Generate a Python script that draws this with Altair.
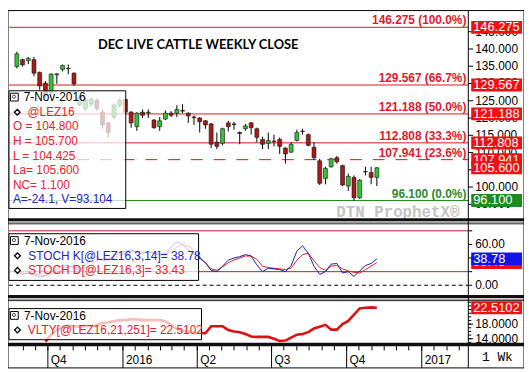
import altair as alt
import pandas as pd

W, H = 522, 362


def RX(x):
    return round((x - 2.0) * W / 528.0, 2)


def RY(y):
    return round((y - 2.0) * H / 368.0, 2)


FONT = "Liberation Sans"

# ---------------- data ----------------
weeks = pd.date_range("2015-08-24", periods=64, freq="7D").strftime("%Y-%m-%d").tolist()

opens = [134.9, 136.9, 136.6, 136.9, 133.2, 130.1, 127.3, 132.5, 134.1, 134.4,
         133.0, 123.9, 122.8, 124.2, 125.1, 121.7, 118.6, 120.3, 123.7, 125.4,
         121.7, 117.5, 121.7, 121.5, 119.4, 117.5, 119.7, 121.4, 121.4, 122.2,
         121.4, 120.3, 120.0, 119.2, 118.3, 113.0, 112.7, 118.6, 118.3, 115.8,
         116.9, 118.6, 116.9, 113.8, 112.7, 113.2, 113.8, 111.3, 110.1, 113.5,
         116.1, 115.2, 111.5, 107.6, 102.5, 105.9, 108.5, 106.2, 100.3, 102.8,
         96.9, 104.5, 104.2, 102.8]
highs = [139.2, 137.2, 137.7, 137.7, 133.5, 130.7, 133.0, 133.0, 135.5, 135.5,
         133.2, 126.5, 125.9, 125.9, 125.6, 122.5, 118.9, 124.2, 125.6, 125.6,
         122.0, 121.7, 122.5, 122.5, 119.7, 120.3, 122.2, 122.0, 123.7, 124.0,
         121.7, 120.8, 120.3, 119.4, 118.6, 115.8, 117.2, 119.2, 118.9, 116.1,
         118.3, 118.9, 117.2, 114.6, 115.8, 115.2, 114.4, 111.5, 113.0, 116.6,
         116.9, 115.5, 113.0, 108.2, 105.9, 108.5, 109.0, 106.5, 103.9, 103.4,
         102.3, 105.9, 105.9, 105.7]
lows = [134.4, 134.9, 135.6, 132.1, 128.2, 125.9, 127.0, 129.9, 133.5, 132.7,
        129.3, 123.4, 122.0, 123.4, 122.0, 116.9, 114.4, 119.7, 123.1, 121.1,
        117.2, 116.3, 120.0, 120.0, 116.9, 116.3, 119.4, 120.3, 120.3, 121.4,
        118.6, 118.0, 115.8, 116.9, 111.3, 111.0, 112.1, 116.1, 116.6, 112.4,
        116.3, 115.2, 113.0, 111.0, 111.0, 111.8, 109.6, 106.8, 109.9, 113.2,
        115.2, 111.8, 107.9, 100.6, 100.8, 105.6, 106.8, 100.3, 98.9, 96.1,
        96.6, 103.4, 100.8, 100.3]
closes = [138.6, 135.4, 137.3, 133.0, 129.3, 126.5, 132.7, 132.8, 135.2, 134.3,
          129.9, 125.9, 125.1, 125.4, 122.8, 118.0, 115.8, 123.7, 125.1, 121.7,
          118.6, 121.4, 120.8, 121.7, 117.2, 119.2, 121.4, 120.8, 122.5, 122.0,
          120.6, 120.1, 118.9, 118.0, 112.4, 111.8, 116.9, 117.5, 118.1, 115.5,
          117.7, 117.2, 114.4, 112.4, 113.5, 113.3, 111.8, 109.6, 112.4, 115.8,
          116.2, 112.1, 108.5, 101.1, 105.4, 108.2, 107.3, 100.6, 103.1, 96.9,
          102.0, 104.4, 102.8, 105.6]

stoch_k = [18, 16, 18, 15, 12, 14, 20, 24, 30, 28,
           26, 22, 30, 38, 42, 36, 38, 44, 48, 50,
           52, 48, 46, 50, 47, 44, 46, 56, 64, 60,
           52, 46, 41, 33, 22, 20, 28, 37, 40, 42,
           45, 43, 30, 20, 25, 24, 23, 20, 29, 50,
           58, 47, 28, 16, 20, 31, 32, 18, 20, 13,
           21, 29, 32, 38.78]
stoch_d = [20, 18, 17, 16, 15, 14, 16, 19, 25, 27,
           28, 25, 26, 30, 37, 39, 39, 40, 44, 47,
           50, 50, 49, 48, 48, 47, 46, 50, 56, 60,
           58, 52, 39.5, 33, 24, 22, 27, 33, 37, 40,
           43, 43, 38, 28, 26, 25, 24, 23, 25, 37,
           45, 47, 36, 26, 22, 28, 29, 24, 21, 19,
           18, 23, 28, 33.43]

# volatility starts at the 6th weekly bar
volatility = [13.2, 15.1, 16.4, 17.2, 17.5, 17.5, 17.2, 17.5, 17.5, 17.7,
              18.3, 18.5, 18.8, 19.1, 19.1, 19.3, 19.3, 19.1, 19.1, 19.1,
              19.1, 18.8, 17.7, 16.7, 16.1, 15.9, 15.6, 15.6, 15.5, 17.4,
              17.4, 17.4, 16.4, 16.0, 15.8, 15.3, 14.6, 14.5, 14.5, 14.5,
              14.0, 13.4, 13.5, 14.3, 15.1, 15.3, 15.8, 16.8, 17.3, 17.8,
              16.5, 16.5, 18.0, 18.9, 20.6, 22.3, 22.5, 22.6, 22.5102]

fib_levels = [146.275, 129.567, 121.188, 112.808, 107.941, 96.100]
fib_pcts = ["100.0%", "66.7%", "50.0%", "33.3%", "23.6%", "0.0%"]
last_price = [105.600]

price_ticks = [95, 100, 105, 110, 115, 120, 125, 130, 135, 140, 145]
stoch_levels = [80, 20]
stoch_minor = [0, 20, 40, 60, 80]
stoch_labels = [0, 60]
stoch_last_k = [38.78]
stoch_last_d = [33.43]
vol_minor = [13, 14, 15, 16, 17, 18, 19, 20, 21, 22, 23, 24]
vol_major = [14, 18, 22]
vol_last = [22.5102]

axis_dates = ["2015-10-01", "2016-01-01", "2016-04-01", "2016-07-01", "2016-10-01", "2017-01-01"]
axis_labels = ["Q4", "2016", "Q2", "Q3", "Q4", "2017"]
minor_dates = []
for yy, mm in [(2015, m) for m in range(9, 13)] + [(2016, m) for m in range(1, 13)] + [(2017, 1), (2017, 2)]:
    for dd in (1, 16):
        minor_dates.append(f"{yy}-{mm:02d}-{dd:02d}")

# ---------------- styles ----------------
RED_LINE = "#d41a1a"
RED_TXT = "#e0192a"
GREEN_LINE = "#1e8c1e"
GREEN_TXT = "#2b8a2b"
C_RED = "#a81a1a"
C_GREEN = "#33c233"
BOX_RED = "#ef1111"
BOX_GREEN = "#1c8c1c"
BOX_BLUE = "#1414e8"
K_BLUE = "#1d1da0"
D_RED = "#e01f1f"
VOL_RED = "#dd1111"
LEG_RED = "#e6222a"
LEG_BLUE = "#2424c4"

XS = alt.Scale(domain=[alt.DateTime(year=2015, month=8, date=20, hours=10, utc=True),
                       alt.DateTime(year=2017, month=2, date=20, hours=23, utc=True)],
               range=[RX(3), RX(473)], nice=False)
PS = alt.Scale(domain=[90.99, 150.99], range=[RY(216), RY(3)], nice=False, zero=False)
SS = alt.Scale(domain=[-14.29, 90.0], range=[RY(295), RY(222)], nice=False, zero=False)
VS = alt.Scale(domain=[12.93, 24.13], range=[RY(344), RY(302)], nice=False, zero=False)

ONE = alt.Data(values=[{"a": 1}])


def Xd(field="date"):
    return alt.X(f"{field}:T", scale=XS, axis=None)


def Yq(field, scale):
    return alt.Y(f"{field}:Q", scale=scale, axis=None)


def txt(s, x, y, color="black", size=12, align="left", weight="normal", font=FONT):
    return alt.Chart(ONE).mark_text(text=s, align=align, baseline="middle", fontSize=size,
                                    font=font, fontWeight=weight, color=color).encode(
        x=alt.value(RX(x)), y=alt.value(RY(y)))


def box(x1, x2, y1, y2, fill="white", stroke=None, sw=1.0, opacity=1.0):
    kw = dict(fill=fill, fillOpacity=opacity)
    if stroke:
        kw.update(stroke=stroke, strokeWidth=sw)
    return alt.Chart(ONE).mark_rect(**kw).encode(
        x=alt.value(RX(x1)), x2=alt.value(RX(x2)), y=alt.value(RY(y1)), y2=alt.value(RY(y2)))


def hline(x1, x2, y, color="black", sw=1.0):
    return alt.Chart(ONE).mark_rule(color=color, strokeWidth=sw).encode(
        x=alt.value(RX(x1)), x2=alt.value(RX(x2)), y=alt.value(RY(y)))


def vline(x, y1, y2, color="black", sw=1.0):
    return alt.Chart(ONE).mark_rule(color=color, strokeWidth=sw).encode(
        x=alt.value(RX(x)), y=alt.value(RY(y1)), y2=alt.value(RY(y2)))


def diamond(x, y):
    return alt.Chart(ONE).mark_point(shape="diamond", size=34, filled=True, fill="white",
                                     stroke="black", strokeWidth=1.3, opacity=1).encode(
        x=alt.value(RX(x)), y=alt.value(RY(y)))


def icon(x, y):
    return [box(x, x + 8, y, y + 8, fill="white", stroke="black", sw=1),
            alt.Chart(ONE).mark_point(shape="circle", size=10, filled=False, stroke="black",
                                      strokeWidth=1).encode(x=alt.value(RX(x + 3.6)), y=alt.value(RY(y + 3.6)))]


def hticks(values, scale, x1, x2):
    return alt.Chart(pd.DataFrame({"v": values})).mark_rule(color="black", strokeWidth=1).encode(
        y=Yq("v", scale), x=alt.value(RX(x1)), x2=alt.value(RX(x2)))


def vlabels(values, scale, fmt):
    return alt.Chart(pd.DataFrame({"v": values})).mark_text(
        align="left", baseline="middle", fontSize=12, font=FONT, color="black").encode(
        y=Yq("v", scale), x=alt.value(RX(480)), text=alt.Text("v:Q", format=fmt))


def value_box(values, scale, fill, fmt):
    df = pd.DataFrame({"v": values})
    r = alt.Chart(df).mark_rect(fill=fill, yOffset=-6.5, y2Offset=6.5).encode(
        y=Yq("v", scale), y2="v:Q", x=alt.value(RX(476)), x2=alt.value(RX(528)))
    t = alt.Chart(df).mark_text(align="left", baseline="middle", fontSize=13, font=FONT,
                                color="white").encode(
        y=Yq("v", scale), x=alt.value(RX(478)), text=alt.Text("v:Q", format=fmt))
    return [r, t]


# ---------------- price panel ----------------
candles = pd.DataFrame({"date": weeks, "open": opens, "high": highs, "low": lows, "close": closes})
candles["dir"] = ["up" if c >= o else "down" for o, c in zip(opens, closes)]

fib = pd.DataFrame({"level": fib_levels,
                    "label": [f"{l:.3f} ({p})" for l, p in zip(fib_levels, fib_pcts)]})


def fib_rule(df, color, dash=None):
    kw = dict(color=color, stroke=color, strokeWidth=1, strokeOpacity=1)
    if dash:
        kw["strokeDash"] = dash
    return alt.Chart(df).mark_rule(**kw).encode(
        y=Yq("level", PS), x=alt.value(RX(3)), x2=alt.value(RX(473)))


def fib_text(df, color):
    return alt.Chart(df).mark_text(align="right", baseline="middle", dy=-7, fontSize=12, font=FONT,
                                   fontWeight="bold", color=color).encode(
        y=Yq("level", PS), x=alt.value(RX(471)), text="label:N")


wicks = alt.Chart(candles).mark_rule(color="black", strokeWidth=1).encode(
    x=Xd(), y=Yq("low", PS), y2="high:Q")
bodies = alt.Chart(candles).mark_bar(size=4, stroke="#151515", strokeWidth=0.6).encode(
    x=Xd(), y=Yq("open", PS), y2="close:Q",
    fill=alt.Fill("dir:N", scale=alt.Scale(domain=["up", "down"], range=[C_GREEN, C_RED]), legend=None))

price_layer = alt.layer(
    fib_rule(fib.iloc[:4], RED_LINE),
    fib_rule(fib.iloc[[4]], "#e01010", [12, 11]),
    fib_rule(fib.iloc[[5]], GREEN_LINE),
    wicks, bodies,
    fib_text(fib.iloc[:5], RED_TXT),
    fib_text(fib.iloc[[5]], GREEN_TXT),
    hticks(price_ticks, PS, 473, 478),
    vlabels(price_ticks, PS, ".3f"),
    *value_box(fib_levels[:5], PS, BOX_RED, ".3f"),
    *value_box(last_price, PS, BOX_RED, ".3f"),
    *value_box(fib_levels[5:], PS, BOX_GREEN, ".3f"),
)

# ---------------- stochastic panel ----------------
st = pd.DataFrame({"date": weeks, "k": stoch_k, "d": stoch_d})
stoch_layer = alt.layer(
    alt.Chart(pd.DataFrame({"v": stoch_levels})).mark_rule(color=RED_LINE, strokeWidth=1).encode(
        y=Yq("v", SS), x=alt.value(RX(3)), x2=alt.value(RX(473))),
    alt.Chart(pd.DataFrame({"v": [0]})).mark_rule(color="black", strokeWidth=1, strokeDash=[4, 3]).encode(
        y=Yq("v", SS), x=alt.value(RX(3)), x2=alt.value(RX(473))),
    alt.Chart(st).mark_line(color=D_RED, strokeWidth=1).encode(x=Xd(), y=Yq("d", SS)),
    alt.Chart(st).mark_line(color=K_BLUE, strokeWidth=1).encode(x=Xd(), y=Yq("k", SS)),
    hticks(stoch_minor, SS, 473, 477),
    vlabels(stoch_labels, SS, ".2f"),
    *value_box(stoch_last_d, SS, BOX_RED, ".2f"),
    *value_box(stoch_last_k, SS, BOX_BLUE, ".2f"),
)

# ---------------- volatility panel ----------------
vol = pd.DataFrame({"date": weeks[5:], "v": volatility})
vol_layer = alt.layer(
    alt.Chart(vol).mark_line(color=VOL_RED, strokeWidth=2.6).encode(x=Xd(), y=Yq("v", VS)),
    hticks(vol_minor, VS, 473, 476),
    hticks(vol_major, VS, 473, 478),
    vlabels(vol_major, VS, ".4f"),
    *value_box(vol_last, VS, BOX_RED, ".4f"),
)

# ---------------- overlays ----------------
overlays = []
overlays.append(txt("DEC LIVE CATTLE WEEKLY CLOSE", 94, 38, size=13, weight="bold", font="Lato"))
overlays.append(txt("DTN ProphetX\u00ae", 464, 210, color="#c4c4c4", size=16, weight="bold",
                    font="Liberation Mono", align="right"))

# price legend
overlays.append(box(3, 122.5, 85, 206, fill="white", stroke="black", opacity=0.72))
overlays += icon(4.5, 87.5)
overlays.append(txt("7-Nov-2016", 18, 91))
overlays.append(diamond(11.5, 107))
overlays.append(txt("@LEZ16", 22, 106.7, color=LEG_RED))
for i, s in enumerate(["O = 104.800", "H = 105.700", "L = 104.425", "La= 105.600", "NC= 1.100"]):
    overlays.append(txt(s, 7, 121.7 + 15 * i, color=LEG_RED))
overlays.append(txt("A=-24.1, V=93.104", 7, 196.7, color=LEG_BLUE))

# stoch legend
overlays.append(box(3, 197, 232, 280, fill="white", stroke="black", opacity=0.72))
overlays += icon(4.5, 235)
overlays.append(txt("7-Nov-2016", 18.3, 240))
overlays.append(diamond(11.7, 254.7))
overlays.append(txt("STOCH K[@LEZ16,3,14]= 38.78", 22.7, 254.7, color=LEG_BLUE))
overlays.append(diamond(11.7, 269.7))
overlays.append(txt("STOCH D[@LEZ16,3]= 33.43", 22.7, 269.7, color=LEG_RED))

# volatility legend
overlays.append(box(3, 200, 309, 341, fill="white", stroke="black", opacity=0.72))
overlays += icon(4.5, 312)
overlays.append(txt("7-Nov-2016", 18.3, 316.7))
overlays.append(diamond(11.7, 331))
overlays.append(txt("VLTY[@LEZ16,21,251]= 22.5102", 22.3, 331, color=LEG_RED))

# separators between panels
for ytop in (216, 295):
    overlays.append(box(2, 530, ytop, ytop + 3.2, fill="#101010"))
    overlays.append(hline(2, 530, ytop + 4.3, color="#9a9a9a", sw=1.5))
    overlays.append(hline(2, 530, ytop + 5.8, color="#202020", sw=1))
overlays.append(box(2, 530, 344, 347.6, fill="#101010"))

# time axis
tick_df = pd.DataFrame({"d": minor_dates})
overlays.append(alt.Chart(tick_df).mark_rule(color="black", strokeWidth=1).encode(
    x=Xd("d"), y=alt.value(RY(347.6)), y2=alt.value(RY(352))))
ax = pd.DataFrame({"d": axis_dates, "label": axis_labels})
overlays.append(alt.Chart(ax).mark_rule(color="black", strokeWidth=1).encode(
    x=Xd("d"), y=alt.value(RY(347.6)), y2=alt.value(RY(370))))
overlays.append(alt.Chart(ax).mark_text(align="left", baseline="middle", dx=3, fontSize=12,
                                        font=FONT, color="black").encode(
    x=Xd("d"), y=alt.value(RY(362)), text="label:N"))
overlays.append(txt("1 Wk", 487, 359, size=13, font="Liberation Mono"))

# frame
overlays.append(vline(473, 2.5, 370))
overlays.append(box(2, 530, 2.5, 370, fill="none", stroke="black", sw=1))

chart = alt.layer(price_layer, stoch_layer, vol_layer, *overlays).resolve_scale(
    y="independent"
).properties(
    width=W, height=H, padding=0, autosize=alt.AutoSizeParams(type="none")
).configure_view(stroke=None)

chart.save("out.html", embed_options={"renderer": "svg", "actions": False})
